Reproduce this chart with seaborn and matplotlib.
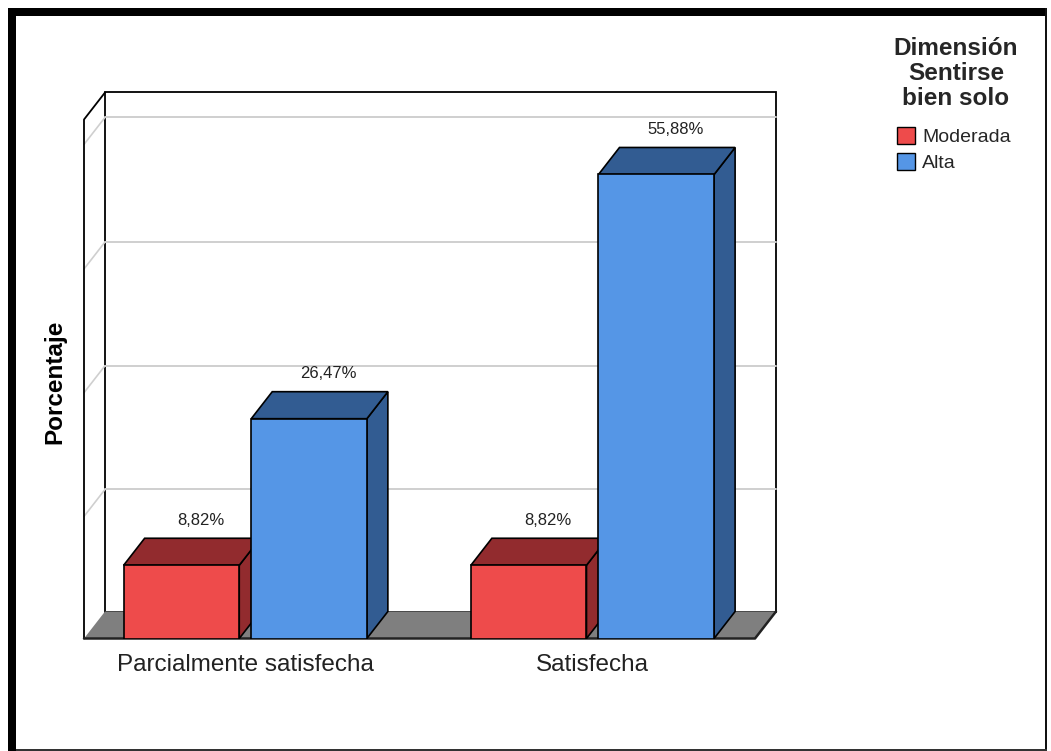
import matplotlib
matplotlib.use("Agg")
import matplotlib.pyplot as plt
from matplotlib.patches import Polygon, Rectangle, Patch
from matplotlib.lines import Line2D
import seaborn as sns
import pandas as pd

# ---- data ----
categories = ["Parcialmente satisfecha", "Satisfecha"]
series_names = ["Moderada", "Alta"]
moderada = [8.82, 8.82]
alta = [26.47, 55.88]
value_labels_moderada = ["8,82%", "8,82%"]
value_labels_alta = ["26,47%", "55,88%"]
legend_title = "Dimensión\nSentirse\nbien solo"
y_label = "Porcentaje"
grid_values = [14.7, 29.6, 44.5, 59.5]

front_colors = ["#EE4B4B", "#5596E6"]
dark_colors = ["#922B2E", "#325C92"]

sns.set_style("white")
plt.rcParams["font.family"] = ["Liberation Sans", "DejaVu Sans"]

W, H = 1051, 751
AX_H = 519
fig = plt.figure(figsize=(W / 100, H / 100), dpi=100)
ax = fig.add_axes([84 / W, (H - 638.5) / H, (755 - 84) / W, AX_H / H])

df = pd.DataFrame({
    "cat": categories * 2,
    "grupo": [series_names[0]] * 2 + [series_names[1]] * 2,
    "pct": moderada + alta,
})

sns.barplot(data=df, x="cat", y="pct", hue="grupo", order=categories,
            hue_order=series_names, palette=front_colors, width=0.735,
            gap=0.094, edgecolor="black", linewidth=1.2, legend=False,
            saturation=1, ax=ax)

# collect bars per hue from the containers seaborn created
bar_info = []  # (patch, hue_index, label)
all_labels = [value_labels_moderada, value_labels_alta]
for k, cont in enumerate(ax.containers[:2]):
    for j, p in enumerate(cont.patches):
        bar_info.append((p, k, all_labels[k][j]))
bar_info.sort(key=lambda t: t[0].get_x())

x0, x1 = -0.4644, 1.468
ymax = 62.5
ax.set_xlim(x0, x1)
ax.set_ylim(0, ymax)
px_x = 347.25
px_y = AX_H / ymax
dx = 21 / px_x
dy = 27 / px_y

# back wall
ax.add_patch(Polygon([(x0 + dx, dy), (x1 + dx, dy), (x1 + dx, ymax + dy), (x0 + dx, ymax + dy)],
                     closed=True, facecolor="white", edgecolor="black", lw=1.3,
                     clip_on=False, zorder=0.2))
for v in grid_values:
    ax.add_line(Line2D([x0 + dx, x1 + dx], [v + dy, v + dy], color="#cfcfcf", lw=1.4,
                       clip_on=False, zorder=0.3))
    ax.add_line(Line2D([x0, x0 + dx], [v, v + dy], color="#cfcfcf", lw=1.2,
                       clip_on=False, zorder=0.3))
# left wall
ax.add_line(Line2D([x0, x0, x0 + dx], [0, ymax, ymax + dy], color="black", lw=1.3,
                   clip_on=False, zorder=0.4))
# floor
ax.add_patch(Polygon([(x0, 0), (x1, 0), (x1 + dx, dy), (x0 + dx, dy)], closed=True,
                     facecolor="#7f7f7f", edgecolor="none", clip_on=False, zorder=0.5))
ax.add_line(Line2D([x0, x1, x1 + dx], [0, 0, dy], color="#222222", lw=1.8,
                   clip_on=False, zorder=0.6))

# 3D faces for bars + value labels
for i, (b, k, lab) in enumerate(bar_info):
    bx0 = b.get_x()
    bx1 = bx0 + b.get_width()
    h = b.get_height()
    b.set_zorder(3 + i)
    top = Polygon([(bx0, h), (bx1, h), (bx1 + dx, h + dy), (bx0 + dx, h + dy)], closed=True,
                  facecolor=dark_colors[k], edgecolor="black", lw=1.2, clip_on=False,
                  zorder=2.5 + i)
    side = Polygon([(bx1, 0), (bx1 + dx, dy), (bx1 + dx, h + dy), (bx1, h)], closed=True,
                   facecolor=dark_colors[k], edgecolor="black", lw=1.2, clip_on=False,
                   zorder=2.5 + i)
    ax.add_patch(side)
    ax.add_patch(top)
    cx = (bx0 + bx1) / 2 + 19 / px_x
    ax.text(cx, h + dy + 18 / px_y, lab, ha="center", va="center",
            fontsize=12, color="#222222", zorder=20, clip_on=False)

sns.despine(ax=ax, left=True, bottom=True)
ax.set_yticks([])
ax.set_xlabel("")
ax.set_ylabel("")
ax.tick_params(axis="x", length=0, pad=11, labelsize=17.5, labelcolor="#222222")
ax.grid(False)

fig.text(55 / W, 1 - 382 / H, y_label, rotation=90, ha="center", va="center",
         fontsize=17.5, fontweight="bold", color="black")

# legend
fig.text(956 / W, 1 - 73.5 / H, legend_title, ha="center", va="center",
         fontsize=17.5, fontweight="bold", linespacing=1.12)
handles = [Patch(facecolor=c, edgecolor="black", lw=1.0) for c in front_colors]
fig.legend(handles, series_names, loc="upper left", bbox_to_anchor=(897 / W, 1 - 127 / H),
           frameon=False, fontsize=14, handlelength=0.95, handleheight=0.95,
           handletextpad=0.35, labelspacing=0.36, borderpad=0, borderaxespad=0)

# outer frame
fig.add_artist(Rectangle((8 / W, 1 - 16 / H), (1047 - 8) / W, 8 / H, transform=fig.transFigure,
                         facecolor="black", edgecolor="none"))
fig.add_artist(Rectangle((8 / W, 0), 8 / W, 1 - 8 / H, transform=fig.transFigure,
                         facecolor="black", edgecolor="none"))
fig.add_artist(Rectangle((1045 / W, 0), 2 / W, 1 - 8 / H, transform=fig.transFigure,
                         facecolor="#111111", edgecolor="none"))
fig.add_artist(Rectangle((16 / W, 1 - 751 / H), (1047 - 16) / W, 2 / H, transform=fig.transFigure,
                         facecolor="#333333", edgecolor="none"))

fig.savefig("out.png", dpi=100, facecolor="white")
